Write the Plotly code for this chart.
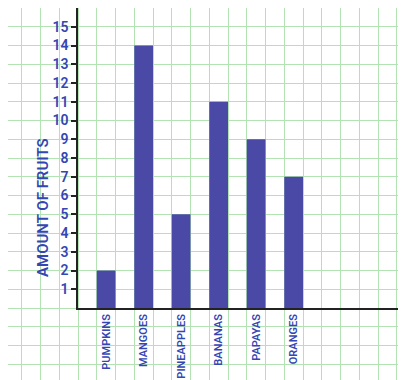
import plotly.graph_objects as go

# chart data
fruits = ["PUMPKINS", "MANGOES", "PINEAPPLES", "BANANAS", "PAPAYAS", "ORANGES"]
amounts = [2, 14, 5, 11, 9, 7]
y_ticks = list(range(1, 16))

W, H = 406, 380
BOTTOM = 80          # px below the x axis for the category labels
AXIS_X = 70          # px left of the y axis
BLUE_TEXT = "#3446b4"
BAR = "#4a4aa6"
GRID = "#b3e2b3"
FONT = "Roboto, Arial"

fig = go.Figure()

# grid-paper background covering the whole page (pixel units)
fig.add_trace(go.Scatter(x=[0, W], y=[0, H], mode="markers",
                         marker=dict(opacity=0), hoverinfo="skip",
                         showlegend=False, xaxis="x", yaxis="y"))

# the bar chart itself
fig.add_trace(go.Bar(x=fruits, y=amounts, marker=dict(color=BAR, line=dict(width=0)),
                     width=0.5, showlegend=False, xaxis="x2", yaxis="y2"))

cell = (H - BOTTOM) / 16

fig.update_layout(
    width=W, height=H,
    margin=dict(l=0, r=0, t=0, b=0),
    paper_bgcolor="white", plot_bgcolor="rgba(0,0,0,0)",
    font=dict(family=FONT, color=BLUE_TEXT),
    xaxis=dict(domain=[0, 1], range=[0, W], tick0=AXIS_X, dtick=cell,
               showgrid=True, gridcolor=GRID, gridwidth=1.3,
               showticklabels=False, zeroline=False, fixedrange=True),
    yaxis=dict(domain=[0, 1], range=[0, H], tick0=BOTTOM, dtick=cell,
               showgrid=True, gridcolor=GRID, gridwidth=1.3,
               showticklabels=False, zeroline=False, fixedrange=True),
    xaxis2=dict(domain=[AXIS_X / W, 1], anchor="y2",
                range=[-0.75, -0.75 + (W - AXIS_X) / (2 * cell)],
                showline=True, linecolor="#222", linewidth=1.5,
                showgrid=False, ticks="", tickangle=-90,
                tickfont=dict(size=11, color=BLUE_TEXT, family=FONT, weight=600)),
    yaxis2=dict(domain=[BOTTOM / H, 1], anchor="x2", range=[0, 16],
                tickvals=y_ticks, showline=True, linecolor="#222", linewidth=1.5,
                showgrid=False, zeroline=False, ticks="outside", ticklen=5,
                tickcolor="#222", tickwidth=1.5,
                tickfont=dict(size=14, color=BLUE_TEXT, family=FONT, weight=600)),
    yaxis3=dict(overlaying="y2", anchor="x2", side="left", range=[0, 16],
                tickvals=y_ticks, ticks="inside", ticklen=5, tickcolor="#222",
                tickwidth=1.5, showticklabels=False, showgrid=False,
                zeroline=False, showline=False),
)

# y title placed as an annotation to mimic the hand lettering
fig.add_annotation(text="AMOUNT OF FRUITS", textangle=-90, showarrow=False,
                   xref="paper", yref="paper", x=24 / W, y=(H - 200) / H,
                   font=dict(size=15, color=BLUE_TEXT, family=FONT, weight=600))

fig.write_html("out.html")
